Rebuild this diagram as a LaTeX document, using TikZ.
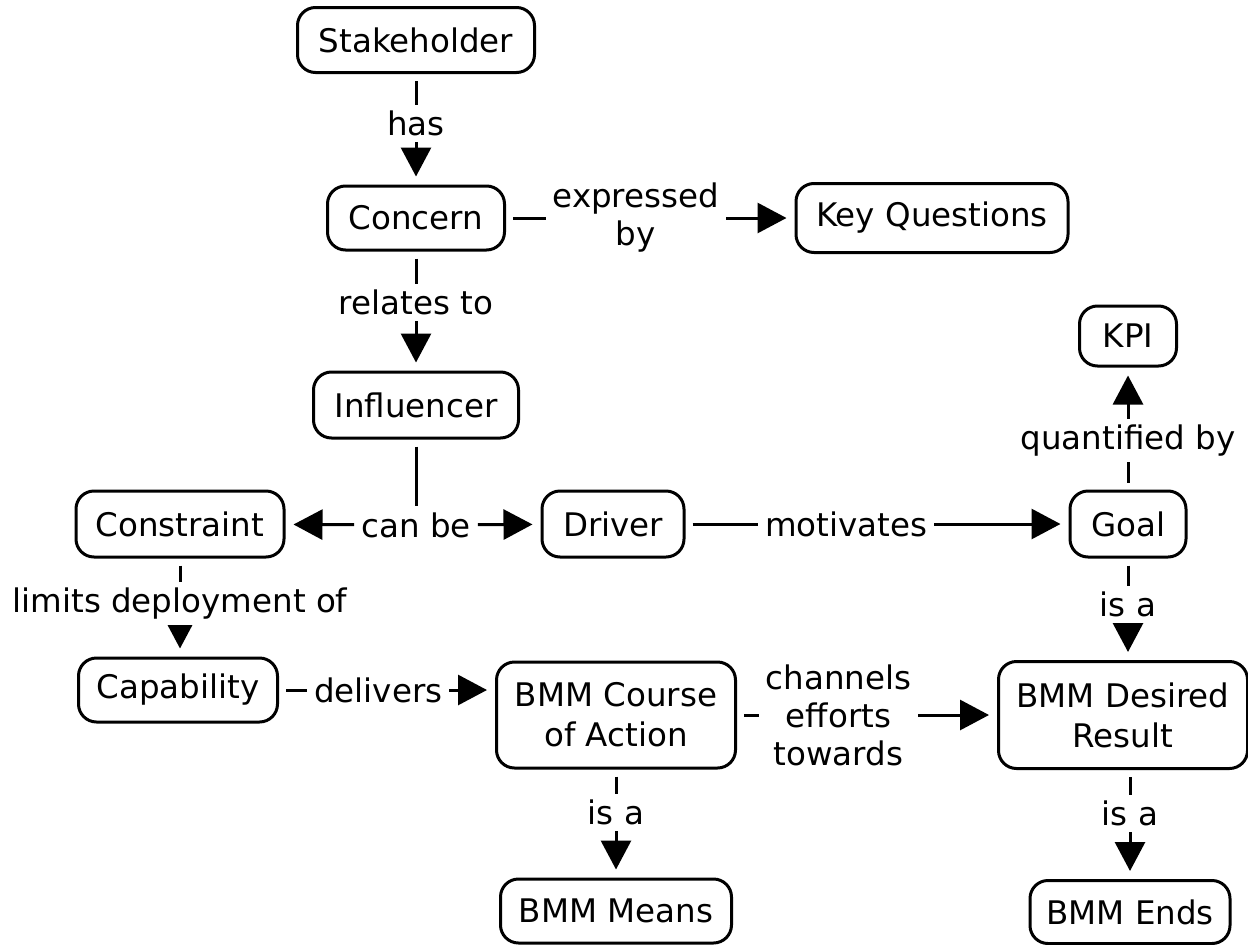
\documentclass[tikz,border=0pt]{standalone}
\usepackage{fontspec}
\setmainfont{DejaVu Sans}
\usetikzlibrary{arrows.meta}
\begin{document}
\begin{tikzpicture}[x=1pt,y=-1pt,
  box/.style={draw, line width=3pt, rounded corners=18pt, align=center, inner sep=0pt,
    font=\fontsize{32.5}{40}\selectfont},
  conn/.style={line width=3pt, -{Triangle[length=29pt,width=30pt]}, shorten <=7pt, shorten >=8pt},
  plain/.style={line width=3pt, shorten <=7pt},
  lbl/.style={fill=white, inner xsep=7pt, inner ysep=6pt, align=center,
    font=\fontsize{32.5}{38}\selectfont},
]
\useasboundingbox (0,0) rectangle (1248,945);

\node[box, minimum width=237pt, minimum height=65pt] (stake) at (416,40) {Stakeholder};
\node[box, minimum width=177pt, minimum height=64pt] (concern) at (416,218) {Concern};
\node[box, minimum width=272pt, minimum height=69pt] (kq) at (932,218) {Key Questions};
\node[box, minimum width=205pt, minimum height=66pt] (infl) at (416,405) {Influencer};
\node[box, minimum width=97pt, minimum height=60pt] (kpi) at (1128,336) {KPI};
\node[box, minimum width=208pt, minimum height=66pt] (constr) at (180,524) {Constraint};
\node[box, minimum width=142pt, minimum height=66pt] (driver) at (613,524) {Driver};
\node[box, minimum width=116pt, minimum height=66pt] (goal) at (1128,524) {Goal};
\node[box, minimum width=199pt, minimum height=64pt] (capab) at (178,690) {Capability};
\node[box, minimum width=239pt, minimum height=106pt] (coa) at (616,715) {BMM Course\\of Action};
\node[box, minimum width=249pt, minimum height=107pt] (dr) at (1123,715) {BMM Desired\\Result};
\node[box, minimum width=231pt, minimum height=64pt] (means) at (616,911) {BMM Means};
\node[box, minimum width=200pt, minimum height=63pt] (ends) at (1130,912) {BMM Ends};

\draw[conn] (stake) -- node[lbl, pos=0.45] {has} (concern);
\draw[conn] (concern) -- node[lbl, pos=0.45] {expressed\\by} (kq);
\draw[conn] (concern) -- node[lbl, pos=0.43] {relates to} (infl);

\node[lbl] (canbe) at (416,525) {can be};
\draw[plain] (infl) -- (canbe);
\draw[conn, shorten <=0pt] (canbe) -- (constr);
\draw[conn, shorten <=0pt] (canbe) -- (driver);

\draw[conn] (driver) -- node[lbl, pos=0.42] {motivates} (goal);
\draw[conn] (goal) -- node[lbl, pos=0.4] {quantified by} (kpi);
\draw[conn] (goal) -- node[lbl, pos=0.45] {is a} (goal |- dr.north);
\draw[conn] (constr) -- node[lbl, pos=0.46] {limits deployment of} (constr |- capab.north);
\draw[conn] (capab) -- node[lbl, pos=0.46] {delivers} (capab -| coa.west);
\draw[conn] (coa) -- node[lbl, pos=0.39] {channels\\efforts\\towards} (dr);
\draw[conn] (coa) -- node[lbl, pos=0.4] {is a} (means);
\draw[conn] (ends |- dr.south) -- node[lbl, pos=0.4] {is a} (ends);
\end{tikzpicture}
\end{document}
